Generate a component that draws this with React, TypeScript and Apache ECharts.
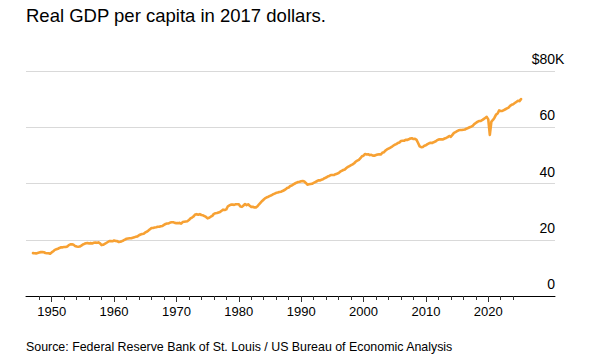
import { useEffect, useRef } from "react";
import * as echarts from "echarts";

const TITLE = "Real GDP per capita in 2017 dollars.";
const SOURCE = "Source: Federal Reserve Bank of St. Louis / US Bureau of Economic Analysis";

// First quarter plotted (quarterly observations, plotted at the start of each quarter)
const START_YEAR = 1947;

// Real GDP per capita, thousands of 2017 dollars, quarterly
const gdp1940s = [15.25, 15.2, 15.15, 15.3, 15.45, 15.6, 15.65, 15.55, 15.3, 15.2, 15.2, 15.0];
const gdp1950s = [
  15.5, 15.9, 16.4, 16.6, 16.8, 17.1, 17.3, 17.3, 17.4, 17.4, 17.6, 18.1, 18.35, 18.4, 18.2, 17.8,
  17.6, 17.5, 17.6, 17.9, 18.3, 18.55, 18.75, 18.85, 18.7, 18.8, 18.7, 18.9, 19.0, 18.9, 19.05, 18.7,
  18.1, 18.2, 18.5, 18.85, 19.2, 19.55, 19.5, 19.45,
];
const gdp1960s = [
  19.75, 19.55, 19.5, 19.2, 19.3, 19.5, 19.75, 20.05, 20.35, 20.45, 20.55, 20.55, 20.7, 20.85, 21.1, 21.2,
  21.6, 21.85, 22.05, 22.15, 22.6, 22.85, 23.25, 23.7, 24.2, 24.2, 24.35, 24.45, 24.6, 24.6, 24.8, 24.9,
  25.3, 25.6, 25.8, 25.8, 26.1, 26.2, 26.2, 26.0,
];
const gdp1970s = [
  25.9, 25.9, 26.0, 25.7, 26.3, 26.4, 26.5, 26.6, 27.0, 27.6, 27.9, 28.3, 29.0, 29.1, 28.9, 29.1,
  28.8, 28.7, 28.4, 28.1, 27.6, 27.8, 28.2, 28.5, 29.2, 29.4, 29.5, 29.7, 29.9, 30.3, 30.7, 30.6,
  30.8, 31.9, 32.2, 32.5, 32.5, 32.4, 32.6, 32.6,
];
const gdp1980s = [
  32.6, 31.8, 31.7, 32.2, 32.7, 32.3, 32.6, 32.1, 31.7, 31.7, 31.5, 31.5, 31.9, 32.6, 33.2, 33.8,
  34.3, 34.8, 35.1, 35.3, 35.6, 35.8, 36.2, 36.4, 36.7, 36.8, 37.0, 37.1, 37.3, 37.6, 37.9, 38.4,
  38.6, 39.1, 39.3, 39.7, 40.0, 40.3, 40.5, 40.6,
];
const gdp1990s = [
  40.8, 40.9, 40.7, 40.2, 39.6, 39.7, 39.8, 39.9, 40.2, 40.5, 40.8, 41.1, 41.1, 41.3, 41.5, 41.9,
  42.1, 42.5, 42.7, 43.0, 43.0, 43.0, 43.3, 43.5, 43.7, 44.2, 44.5, 44.8, 45.0, 45.5, 45.9, 46.2,
  46.5, 46.8, 47.2, 47.8, 48.1, 48.4, 49.0, 49.7,
];
const gdp2000s = [
  49.9, 50.5, 50.3, 50.4, 50.1, 50.2, 49.9, 49.9, 50.1, 50.3, 50.4, 50.3, 50.9, 51.1, 51.7, 52.1,
  52.4, 52.7, 53.0, 53.4, 53.8, 54.0, 54.4, 54.6, 55.1, 55.2, 55.2, 55.5, 55.5, 55.7, 56.0, 56.1,
  55.8, 55.9, 55.5, 54.4, 53.2, 52.9, 53.0, 53.4,
];
const gdp2010s = [
  53.6, 54.0, 54.3, 54.5, 54.4, 54.7, 54.9, 55.3, 55.6, 55.7, 55.7, 55.7, 56.0, 56.2, 56.5, 56.9,
  56.6, 57.3, 58.0, 58.3, 58.6, 58.9, 59.0, 59.0, 59.1, 59.2, 59.5, 59.7, 60.0, 60.2, 60.5, 61.1,
  61.5, 61.9, 62.2, 62.2, 62.5, 62.9, 63.3, 63.7,
];
const gdp2020s = [
  62.8, 57.3, 62.0, 62.6, 63.4, 64.5, 64.9, 66.0, 65.8, 65.8, 66.1, 66.4, 66.7, 67.0, 67.6, 68.0,
  68.2, 68.6, 69.0, 69.4, 69.3, 70.0,
];

const decadeTicks = [1950, 1960, 1970, 1980, 1990, 2000, 2010, 2020];
const minorTickYears = [
  1948, 1952, 1954, 1956, 1958, 1962, 1964, 1966, 1968, 1972, 1974, 1976, 1978, 1982, 1984, 1986, 1988,
  1992, 1994, 1996, 1998, 2002, 2004, 2006, 2008, 2012, 2014, 2016, 2018, 2022, 2024,
];
const yTicks = [0, 20, 40, 60, 80];
const TOP_PREFIX = "$";
const TOP_SUFFIX = "K";

const X_MIN = 1945.88;
const X_MAX = 2030.7;

const FONT = '"Liberation Sans", Arial, Helvetica, sans-serif';
const Y_LABEL_SIZE = 14;
const LABEL_RAISE = 12;

export default function App() {
  const ref = useRef<HTMLDivElement>(null);

  useEffect(() => {
    if (!ref.current) return;
    const chart = echarts.init(ref.current, null, { renderer: "svg" });

    const values = [
      ...gdp1940s,
      ...gdp1950s,
      ...gdp1960s,
      ...gdp1970s,
      ...gdp1980s,
      ...gdp1990s,
      ...gdp2000s,
      ...gdp2010s,
      ...gdp2020s,
    ];
    const data = values.map((v, i) => [START_YEAR + i / 4, v]);

    const gridBox = { left: 26, right: 37, top: 71, bottom: 67 };
    const topTick = yTicks[yTicks.length - 1];

    chart.setOption({
      animation: false,
      backgroundColor: "#fff",
      textStyle: { fontFamily: FONT },
      title: [
        {
          text: TITLE,
          left: 26,
          top: 6,
          padding: 0,
          textStyle: { fontSize: 18.5, fontWeight: "normal", color: "#000", fontFamily: FONT },
        },
        {
          text: SOURCE,
          left: 26,
          top: 341,
          padding: 0,
          textStyle: { fontSize: 12.4, fontWeight: "normal", color: "#000", fontFamily: FONT },
        },
      ],
      grid: [{ ...gridBox }, { ...gridBox }],
      xAxis: [
        {
          type: "value",
          gridIndex: 0,
          min: X_MIN,
          max: X_MAX,
          position: "bottom",
          axisLine: { show: true, onZero: false, lineStyle: { color: "#000", width: 1 } },
          axisTick: { show: true, customValues: decadeTicks, length: 6, lineStyle: { color: "#333", width: 1 } },
          axisLabel: {
            customValues: decadeTicks,
            margin: 9,
            fontSize: 13,
            color: "#000",
            fontFamily: FONT,
            formatter: (v: number) => String(v),
          },
          splitLine: { show: false },
        },
        {
          type: "value",
          gridIndex: 1,
          min: X_MIN,
          max: X_MAX,
          position: "bottom",
          axisLine: { show: false },
          axisTick: { show: true, customValues: minorTickYears, length: 4, lineStyle: { color: "#333", width: 1 } },
          axisLabel: { show: false },
          splitLine: { show: false },
        },
      ],
      yAxis: [
        {
          type: "value",
          gridIndex: 0,
          min: 0,
          max: topTick,
          interval: 20,
          position: "right",
          axisLine: { show: false },
          axisTick: { show: false },
          splitLine: { show: true, lineStyle: { color: "#d9d9d9", width: 1 } },
          axisLabel: {
            inside: true,
            margin: 0,
            align: "right",
            verticalAlign: "middle",
            fontSize: Y_LABEL_SIZE,
            color: "#000",
            fontFamily: FONT,
            formatter: (v: number) => (v === topTick ? "" : "{n|" + v + "}"),
            rich: {
              n: {
                fontSize: Y_LABEL_SIZE,
                color: "#000",
                fontFamily: FONT,
                padding: [0, 0, LABEL_RAISE * 2, 0],
              },
            },
          },
        },
        { type: "value", gridIndex: 1, min: 0, max: topTick, show: false },
      ],
      series: [
        {
          type: "line",
          xAxisIndex: 0,
          yAxisIndex: 0,
          data,
          showSymbol: false,
          symbol: "none",
          lineStyle: { color: "#f7a133", width: 2.6, join: "round", cap: "round" },
          z: 3,
        },
      ],
    });

    // Top label: "$80" aligned with the other numbers, the unit "K" hanging past the grid edge
    const ctx = document.createElement("canvas").getContext("2d");
    let numWidth = 22;
    if (ctx) {
      ctx.font = `${Y_LABEL_SIZE}px ${FONT}`;
      numWidth = ctx.measureText(TOP_PREFIX + topTick).width;
    }
    const pt = chart.convertToPixel({ xAxisIndex: 0, yAxisIndex: 0 }, [X_MAX, topTick]) as number[];
    chart.setOption({
      graphic: [
        {
          type: "text",
          x: pt[0] - numWidth,
          y: pt[1] - LABEL_RAISE,
          style: {
            text: TOP_PREFIX + topTick + TOP_SUFFIX,
            fontSize: Y_LABEL_SIZE,
            fontFamily: FONT,
            fill: "#000",
            align: "left",
            verticalAlign: "middle",
          },
        },
      ],
    });

    return () => chart.dispose();
  }, []);

  return (
    <div
      ref={ref}
      style={{ position: "fixed", left: 0, top: 0, width: 592, height: 363, background: "#fff" }}
    />
  );
}
